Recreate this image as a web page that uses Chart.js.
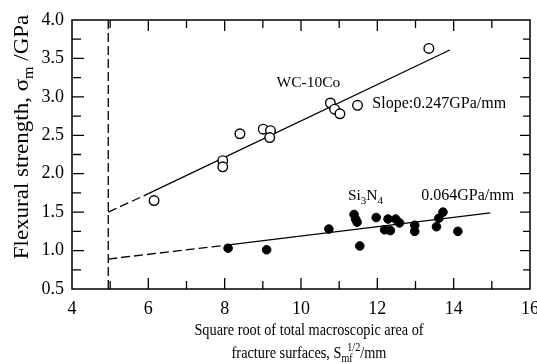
<!DOCTYPE html>
<html>
<head>
<meta charset="utf-8">
<script src="https://cdn.jsdelivr.net/npm/chart.js@4.4.1/dist/chart.umd.min.js"></script>
<style>
  html, body { margin: 0; padding: 0; background: #fff; }
  #wrap { width: 537px; height: 364px; }
</style>
</head>
<body>
<div id="wrap"><canvas id="c" width="537" height="364"></canvas></div>
<script>
// WC-10Co 측정점 (open circles)
const wcX = [6.15, 7.95, 7.95, 8.40, 9.01, 9.20, 9.18, 10.77, 10.88, 11.02, 11.48, 13.35];
const wcY = [1.65, 2.17, 2.09, 2.52, 2.58, 2.56, 2.47, 2.92, 2.84, 2.78, 2.89, 3.63];

// Si3N4 측정점 (filled circles)
const siX = [8.09, 9.10, 10.73, 11.39, 11.43, 11.47, 11.54, 11.97, 12.19, 12.28, 12.34, 12.48, 12.58, 12.98, 12.98, 13.55, 13.61, 13.72, 14.11];
const siY = [1.03, 1.01, 1.28, 1.47, 1.41, 1.37, 1.06, 1.43, 1.27, 1.41, 1.26, 1.41, 1.36, 1.33, 1.25, 1.31, 1.42, 1.50, 1.25];

// 회귀선: 첫 구간은 점선 (외삽)
const wcFitX = [4.95, 6.0, 13.9];
const wcFitY = [1.50, 1.74, 3.61];
const siFitX = [4.95, 8.05, 14.96];
const siFitY = [0.89, 1.07, 1.49];

// 세로 점선
const cutX = [4.95, 4.95];
const cutY = [0.5, 4.0];

const xTickValues = [4, 6, 8, 10, 12, 14, 16];
const yTickValues = [0.5, 1.0, 1.5, 2.0, 2.5, 3.0, 3.5, 4.0];

const SERIF = "'Liberation Serif', 'DejaVu Serif', serif";

function pts(xs, ys) {
    return xs.map((x, i) => ({ x: x, y: ys[i] }));
}

// 아래첨자/위첨자가 있는 텍스트 그리기
// stack: 이전 조각 시작점 기준 오프셋 (위첨자를 아래첨자 위에 겹쳐 놓을 때)
function drawRich(ctx, parts, x, y, size, align) {
    const small = Math.round(size * 0.68);
    const fontOf = p => (p.sub || p.sup ? small : size) + 'px ' + SERIF;
    let cx = 0, prevStart = 0, maxEnd = 0;
    parts.forEach(p => {
        ctx.font = fontOf(p);
        p.w = ctx.measureText(p.t).width;
        if (p.stack !== undefined) {
            p.x = prevStart + p.stack;
            cx = Math.max(cx, p.x + p.w);
        } else {
            p.x = cx;
            prevStart = cx;
            cx += p.w;
        }
        maxEnd = Math.max(maxEnd, cx);
    });
    const x0 = align === 'center' ? x - maxEnd / 2 : x;
    ctx.textBaseline = 'alphabetic';
    ctx.textAlign = 'left';
    parts.forEach(p => {
        ctx.font = fontOf(p);
        let dy = 0;
        if (p.sub) dy = size * 0.25;
        if (p.sup) dy = -size * 0.42;
        ctx.fillText(p.t, x0 + p.x, y + dy);
    });
}

const frameAndTicks = {
    id: 'frameAndTicks',
    afterDatasetsDraw(chart) {
        const { ctx, chartArea: a, scales } = chart;
        ctx.save();
        ctx.strokeStyle = '#000';
        ctx.lineWidth = 1.5;
        ctx.strokeRect(a.left, a.top, a.right - a.left, a.bottom - a.top);
        ctx.lineWidth = 1.3;
        ctx.beginPath();
        for (let v = 5; v <= 15; v++) {
            const px = scales.x.getPixelForValue(v);
            const len = v % 2 === 0 ? 11 : 8;
            ctx.moveTo(px, a.bottom); ctx.lineTo(px, a.bottom - len);
            ctx.moveTo(px, a.top); ctx.lineTo(px, a.top + len);
        }
        for (let v = 0.75; v < 4.0; v += 0.25) {
            const py = scales.y.getPixelForValue(v);
            const major = Math.abs(v * 2 - Math.round(v * 2)) < 1e-6;
            ctx.moveTo(a.left, py); ctx.lineTo(a.left + (major ? 12 : 9), py);
            ctx.moveTo(a.right, py); ctx.lineTo(a.right - (major ? 10 : 7), py);
        }
        ctx.stroke();

        // 주석 텍스트
        ctx.fillStyle = '#000';
        const X = v => scales.x.getPixelForValue(v);
        const Y = v => scales.y.getPixelForValue(v);
        drawRich(ctx, [{ t: 'WC-10Co' }], X(9.36), Y(3.19) + 5, 15.5);
        drawRich(ctx, [{ t: 'Slope:0.247GPa/mm' }], X(11.87), Y(2.92) + 5, 16);
        drawRich(ctx, [{ t: 'Si' }, { t: '3', sub: true }, { t: 'N' }, { t: '4', sub: true }], X(11.23), Y(1.72) + 5, 15.5);
        drawRich(ctx, [{ t: '0.064GPa/mm' }], X(13.15), Y(1.72) + 5, 16);

        // 축 제목 (원본 글꼴이 좁아서 가로로 살짝 눌러 그림)
        ctx.save();
        ctx.translate(28, 137);
        ctx.rotate(-Math.PI / 2);
        ctx.scale(1, 0.88);
        drawRich(ctx, [{ t: 'Flexural strength, \u03c3' }, { t: 'm', sub: true }, { t: ' /GPa' }], 0, 0, 23, 'center');
        ctx.restore();

        ctx.save();
        ctx.translate(309, 0);
        ctx.scale(0.84, 1);
        drawRich(ctx, [{ t: 'Square root of total macroscopic area of' }], 0, 335, 17, 'center');
        drawRich(ctx, [{ t: 'fracture surfaces, S' }, { t: 'mf', sub: true }, { t: '1/2', sup: true, stack: 7 }, { t: '/mm' }], 0, 358, 17, 'center');
        ctx.restore();
        ctx.restore();
    }
};

const dash = [9, 4];

new Chart(document.getElementById('c'), {
    type: 'scatter',
    data: {
        datasets: [
            {
                label: 'WC-10Co',
                data: pts(wcX, wcY),
                pointStyle: 'circle',
                pointRadius: 4.8,
                backgroundColor: '#fff',
                borderColor: '#000',
                borderWidth: 1.4
            },
            {
                label: 'Si3N4',
                data: pts(siX, siY),
                pointStyle: 'circle',
                pointRadius: 4.3,
                backgroundColor: '#000',
                borderColor: '#000',
                borderWidth: 1
            },
            {
                label: 'WC fit',
                data: pts(wcFitX, wcFitY),
                showLine: true,
                pointRadius: 0,
                borderColor: '#000',
                borderWidth: 1.3,
                segment: { borderDash: c => c.p0DataIndex === 0 ? dash : undefined }
            },
            {
                label: 'Si fit',
                data: pts(siFitX, siFitY),
                showLine: true,
                pointRadius: 0,
                borderColor: '#000',
                borderWidth: 1.3,
                segment: { borderDash: c => c.p0DataIndex === 0 ? dash : undefined }
            },
            {
                label: 'cutoff',
                data: pts(cutX, cutY),
                showLine: true,
                pointRadius: 0,
                borderColor: '#000',
                borderWidth: 1.3,
                borderDash: dash
            }
        ]
    },
    options: {
        responsive: false,
        animation: false,
        layout: { padding: { top: 20, right: 7, left: 0, bottom: 0 } },
        plugins: {
            legend: { display: false },
            tooltip: { enabled: false }
        },
        scales: {
            x: {
                type: 'linear',
                min: 4,
                max: 16,
                grid: { display: false, drawTicks: false },
                border: { display: false },
                afterBuildTicks: s => { s.ticks = xTickValues.map(v => ({ value: v })); },
                afterFit: s => { s.height = 75; s.paddingLeft = 0; s.paddingRight = 0; },
                ticks: {
                    color: '#000',
                    padding: 9,
                    maxRotation: 0,
                    font: { family: SERIF, size: 18 },
                    callback: v => String(v)
                }
            },
            y: {
                type: 'linear',
                min: 0.5,
                max: 4.0,
                grid: { display: false, drawTicks: false },
                border: { display: false },
                afterBuildTicks: s => { s.ticks = yTickValues.map(v => ({ value: v })); },
                afterFit: s => { s.width = 72; },
                ticks: {
                    color: '#000',
                    padding: 8,
                    font: { family: SERIF, size: 18 },
                    callback: v => Number(v).toFixed(1)
                }
            }
        }
    },
    plugins: [frameAndTicks]
});
</script>
</body>
</html>
